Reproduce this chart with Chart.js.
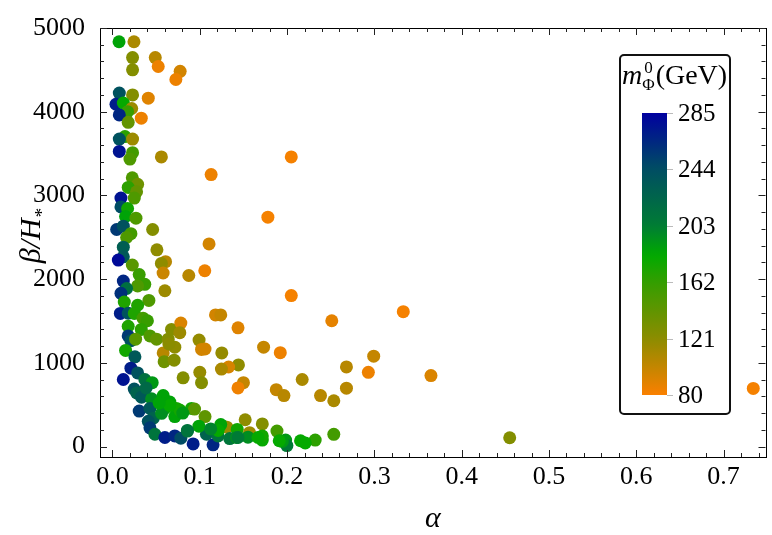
<!DOCTYPE html>
<html>
<head>
<meta charset="utf-8">
<script src="https://cdn.jsdelivr.net/npm/chart.js@4.4.1/dist/chart.umd.min.js"></script>
<style>
  html, body { margin: 0; padding: 0; background: #fff; }
  canvas { display: block; }
</style>
</head>
<body>
<canvas id="scan" width="772" height="535"></canvas>
<script>
// alpha (x), beta/H* (y), m_Phi^0 in GeV (colour)
const alpha = [
  0.0075, 0.0246, 0.023, 0.049, 0.0524, 0.023, 0.0775, 0.0726, 0.0078, 0.023,
  0.041, 0.004, 0.0124, 0.022, 0.0173, 0.0078, 0.033, 0.018, 0.0143, 0.0078,
  0.023, 0.0078, 0.023, 0.020, 0.056, 0.113,
  0.0227, 0.0288, 0.018, 0.0276, 0.0097, 0.025, 0.0097, 0.0173, 0.015, 0.0269,
  0.046, 0.0048, 0.0124, 0.0211, 0.0162, 0.0124, 0.0124, 0.0067, 0.0509, 0.0608,
  0.056, 0.058, 0.0874, 0.0227, 0.0306, 0.0124, 0.037, 0.0288, 0.0162, 0.0097,
  0.060, 0.0417, 0.0135, 0.0288, 0.009, 0.018, 0.025,
  0.178, 0.1106, 0.1057,
  0.2048, 0.2048, 0.2512, 0.3331, 0.1731, 0.1922, 0.2992, 0.268, 0.2931, 0.3648,
  0.2173, 0.1876, 0.1964, 0.2383, 0.2535, 0.268, 0.1716, 0.1884, 0.2535, 0.2322,
  0.2154, 0.2208, 0.1983, 0.1998, 0.1945, 0.1716, 0.455, 0.734,
  0.035, 0.040, 0.018, 0.033, 0.018, 0.0211, 0.0265, 0.0429, 0.0505, 0.0638,
  0.0676, 0.0783, 0.0771, 0.0714, 0.0581, 0.0646, 0.0592, 0.0706, 0.0809, 0.015,
  0.0257, 0.0211, 0.0124, 0.0288, 0.0371, 0.0455, 0.0249, 0.0277, 0.0333, 0.0448,
  0.0581, 0.0657, 0.0733, 0.060, 0.0306, 0.0429, 0.0467, 0.041, 0.0562, 0.0714,
  0.0771, 0.0429, 0.0486, 0.060, 0.0714, 0.0783, 0.0859, 0.0924, 0.0905,
  0.0992, 0.102, 0.106, 0.1252, 0.1438, 0.118, 0.124, 0.1443, 0.133, 0.1248,
  0.100, 0.102, 0.150, 0.1438, 0.152, 0.106, 0.094, 0.1267, 0.131, 0.1429,
  0.157, 0.1716, 0.1152, 0.1076, 0.099, 0.0858, 0.121, 0.1343, 0.142, 0.1552,
  0.1667, 0.124, 0.121, 0.1438, 0.191, 0.0655, 0.0805, 0.1125, 0.0535, 0.0385
];
const beta = [
  4836, 4836, 4647, 4647, 4540, 4500, 4482, 4385, 4223, 4200,
  4162, 4089, 4104, 4038, 4000, 3962, 3923, 3873, 3703, 3673,
  3673, 3526, 3511, 3434, 3460, 3249,
  3210, 3133, 3095, 3044, 2968, 2968, 2863, 2844, 2748, 2728,
  2593, 2593, 2632, 2543, 2497, 2382, 2266, 2228, 2350, 2208,
  2188, 2073, 2043, 2169, 2054, 1977, 1938, 1919, 1888, 1830,
  1861, 1746, 1726, 1688, 1590, 1592, 1590,
  2740, 2420, 2100,
  3460, 1803, 1503, 1611, 1187, 1121, 1079, 951, 887, 848,
  801, 679, 609, 609, 547, 697, 270, 185, 146, 77,
  69, 43, 77, 12, 61, 77, 105, 694,
  1534, 1503, 1437, 1399, 1321, 1264, 1283, 1321, 1283, 1283,
  1399, 1476, 1360, 1187, 1118, 1225, 1014, 1032, 821, 1148,
  1072, 936, 801, 879, 801, 763, 686, 640, 590, 570,
  609, 532, 455, 455, 424, 455, 339, 301, 397, 358,
  436, 223, 147, 108, 127, 100, 185, 31, 455,
  1272, 1160, 1165, 1118, 1418, 1572, 1572, 975, 950, 925,
  887, 763, 763, 700, 320, 358, 447, 243, 231, 205,
  166, 127, 20, 147, 243, 193, 127, 95, 108, 112,
  108, 262, 193, 108, 69, 490, 400, 210, 520, 700
];
const mass = [
  185, 110, 125, 105, 85, 125, 95, 85, 240, 125,
  90, 270, 180, 115, 160, 265, 85, 140, 165, 240,
  115, 275, 155, 150, 110, 85,
  150, 135, 165, 140, 275, 150, 245, 175, 185, 150,
  125, 255, 240, 155, 150, 230, 235, 280, 120, 105,
  120, 98, 105, 145, 160, 265, 160, 150, 215, 260,
  115, 150, 170, 170, 270, 240, 170,
  82, 95, 85,
  82, 82, 88, 82, 100, 85, 100, 105, 85, 92,
  110, 100, 105, 105, 110, 105, 125, 155, 155, 165,
  180, 180, 190, 205, 190, 180, 125, 82,
  155, 160, 170, 165, 255, 240, 145, 150, 140, 125,
  125, 92, 115, 120, 105, 122, 135, 125, 125, 175,
  235, 270, 275, 240, 215, 190, 240, 225, 235, 195,
  185, 185, 175, 185, 255, 235, 225, 240, 195, 185,
  175, 255, 210, 270, 265, 245, 210, 270, 175,
  118, 95, 95, 118, 90, 95, 100, 120, 93, 110,
  118, 125, 100, 84, 120, 142, 145, 180, 117, 175,
  115, 175, 265, 225, 185, 210, 210, 208, 195, 195,
  180, 185, 180, 205, 180, 180, 190, 200, 185, 220
];
const xTicks = [0, 0.1, 0.2, 0.3, 0.4, 0.5, 0.6, 0.7];
const yTicks = [0, 1000, 2000, 3000, 4000, 5000];
const barTicks = [80, 121, 162, 203, 244, 285];

// colour map, orange -> olive -> green -> teal -> blue
const cmapAt = [80, 121, 162, 182, 203, 244, 285];
const cmapRgb = [[250,128,0],[140,140,0],[52,158,0],[0,170,0],[0,124,52],[0,78,98],[0,0,160]];

function massColor(m) {
  let i = 0;
  while (i < cmapAt.length - 2 && m > cmapAt[i + 1]) i++;
  const t = Math.max(0, Math.min(1, (m - cmapAt[i]) / (cmapAt[i + 1] - cmapAt[i])));
  const a = cmapRgb[i], b = cmapRgb[i + 1];
  const c = a.map((v, k) => Math.round(v + (b[k] - v) * t));
  return `rgb(${c[0]},${c[1]},${c[2]})`;
}

const serif = '"Liberation Serif", "DejaVu Serif", serif';

// frame, inward ticks, axis titles and the colour bar box
const decor = {
  id: 'decor',
  afterDraw(chart) {
    const { ctx, chartArea: a, scales: { x, y } } = chart;
    ctx.save();
    ctx.strokeStyle = '#000';
    ctx.lineWidth = 1;
    ctx.strokeRect(Math.round(a.left) + 0.5, Math.round(a.top) + 0.5,
      Math.round(a.right - a.left), Math.round(a.bottom - a.top));

    ctx.strokeStyle = '#222';
    ctx.beginPath();
    for (let i = Math.ceil(x.min / 0.02); i * 0.02 <= x.max; i++) {
      const px = Math.round(x.getPixelForValue(i * 0.02)) + 0.5;
      const len = i % 5 === 0 ? 7 : 4;
      ctx.moveTo(px, a.bottom); ctx.lineTo(px, a.bottom - len);
      ctx.moveTo(px, a.top); ctx.lineTo(px, a.top + len);
    }
    for (let i = Math.ceil(y.min / 200); i * 200 <= y.max; i++) {
      const py = Math.round(y.getPixelForValue(i * 200)) + 0.5;
      const len = i % 5 === 0 ? 7 : 4;
      ctx.moveTo(a.left, py); ctx.lineTo(a.left + len, py);
      ctx.moveTo(a.right, py); ctx.lineTo(a.right - len, py);
    }
    ctx.stroke();

    // axis titles
    ctx.fillStyle = '#000';
    ctx.textBaseline = 'alphabetic';
    ctx.font = 'italic 30px ' + serif;
    ctx.textAlign = 'center';
    ctx.fillText('α', (a.left + a.right) / 2, 527);

    ctx.save();
    ctx.translate(40, 236);
    ctx.rotate(-Math.PI / 2);
    ctx.font = 'italic 30px ' + serif;
    const main = 'β/H';
    const wm = ctx.measureText(main).width;
    ctx.font = 'italic 19px ' + serif;
    const ws = ctx.measureText('*').width;
    const x0 = -(wm + ws) / 2;
    ctx.textAlign = 'left';
    ctx.font = 'italic 30px ' + serif;
    ctx.fillText(main, x0, 0);
    ctx.font = 'italic 19px ' + serif;
    ctx.fillText('*', x0 + wm, 8);
    ctx.restore();

    // colour bar legend
    const bx = 620, by = 55, bw = 110, bh = 359;
    ctx.beginPath();
    ctx.roundRect(bx, by, bw, bh, 4);
    ctx.fillStyle = '#fff';
    ctx.fill();
    ctx.lineWidth = 2;
    ctx.strokeStyle = '#111';
    ctx.stroke();

    ctx.fillStyle = '#000';
    ctx.textAlign = 'left';
    let tx = 622;
    ctx.font = 'italic 28px ' + serif;
    ctx.fillText('m', tx, 84);
    tx += ctx.measureText('m').width;
    ctx.font = '17px ' + serif;
    const wPhi = ctx.measureText('Φ').width;
    ctx.fillText('Φ', tx, 90);
    ctx.fillText('0', tx + (wPhi - ctx.measureText('0').width) / 2, 73);
    tx += wPhi + 1;
    ctx.font = '28px ' + serif;
    ctx.fillText('(GeV)', tx, 84);

    const cx = 642, cw = 25, ctop = 113, cbot = 395;
    const lo = barTicks[0], hi = barTicks[barTicks.length - 1];
    const grad = ctx.createLinearGradient(0, cbot, 0, ctop);
    for (let m = lo; m <= hi; m += 5) grad.addColorStop((m - lo) / (hi - lo), massColor(m));
    ctx.fillStyle = grad;
    ctx.fillRect(cx, ctop, cw, cbot - ctop);

    ctx.strokeStyle = '#bbb';
    ctx.lineWidth = 1;
    ctx.font = '25px ' + serif;
    ctx.textBaseline = 'middle';
    ctx.fillStyle = '#000';
    barTicks.forEach(v => {
      const py = Math.round(cbot - (v - lo) / (hi - lo) * (cbot - ctop)) + 0.5;
      ctx.beginPath();
      ctx.moveTo(cx + cw, py); ctx.lineTo(cx + cw + 6, py);
      ctx.stroke();
      ctx.fillText(String(v), 678, py + 1);
    });
    ctx.restore();
  }
};

new Chart(document.getElementById('scan'), {
  type: 'scatter',
  data: {
    datasets: [{
      data: alpha.map((a, i) => ({ x: a, y: beta[i] })),
      pointBackgroundColor: mass.map(massColor),
      pointBorderWidth: 0,
      pointRadius: 6.5,
      pointHoverRadius: 6.5
    }]
  },
  options: {
    responsive: false,
    animation: false,
    layout: { padding: { top: 14, right: 5, left: 0, bottom: 0 } },
    plugins: { legend: { display: false }, tooltip: { enabled: false } },
    scales: {
      x: {
        type: 'linear',
        min: -0.0143,
        max: 0.748,
        afterBuildTicks: s => { s.ticks = xTicks.map(v => ({ value: v })); },
        afterFit: s => { s.height = 78; },
        grid: { display: false, drawTicks: false },
        border: { display: false },
        ticks: {
          color: '#000',
          padding: 7,
          font: { family: serif, size: 26, lineHeight: 1 },
          callback: v => v.toFixed(1)
        }
      },
      y: {
        type: 'linear',
        min: -125,
        max: 5000,
        afterBuildTicks: s => { s.ticks = yTicks.map(v => ({ value: v })); },
        afterFit: s => { s.width = 100; },
        grid: { display: false, drawTicks: false },
        border: { display: false },
        ticks: {
          color: '#000',
          padding: 15,
          font: { family: serif, size: 26, lineHeight: 1 },
          callback: v => String(v)
        }
      }
    }
  },
  plugins: [decor]
});
</script>
</body>
</html>
